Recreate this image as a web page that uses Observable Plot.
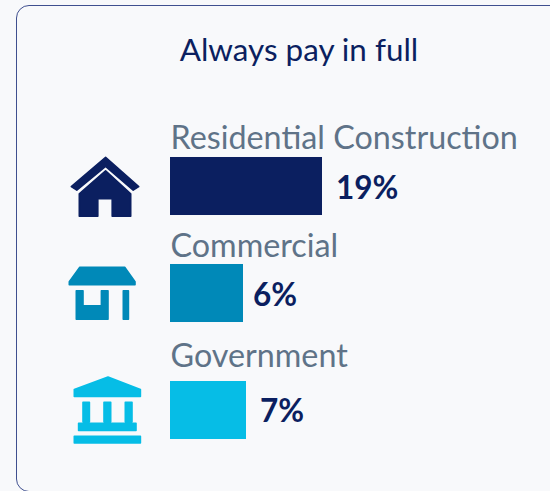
<!DOCTYPE html>
<html>
<head>
<meta charset="utf-8">
<script src="https://cdn.jsdelivr.net/npm/d3@7"></script>
<script src="https://cdn.jsdelivr.net/npm/@observablehq/plot@0.6"></script>
<style>
html,body{margin:0;padding:0;width:550px;height:491px;overflow:hidden;background:#f8f9fb;font-family:Lato,sans-serif}
#card{position:absolute;left:16px;top:5px;width:600px;height:487px;box-sizing:border-box;border:1px solid #3f4f8f;border-radius:13px}
#title{position:absolute;left:0;top:29px;width:598px;text-align:center;font:31.4px/40px Lato,sans-serif;color:#0b1f60}
#chart{position:absolute;left:0;top:0}
svg{background:transparent!important;display:block}
</style>
</head>
<body>
<div id="card"></div>
<div id="title">Always pay in full</div>
<div id="chart"></div>
<script>
const categories = ["Residential Construction", "Commercial", "Government"];
const values = [19, 6, 7];
const colors = ["#0b1f60", "#0089b8", "#06bde6"];
const rowShift = [0, -5, 0];
const labelOffset = [-48, -47, -54];
const valueGap = [13.5, 9.5, 13.5];
const valueOffset = [2, 2, 1];
// The reference's bars are not proportional to their labels: this maps label to drawn length
const lengthStops = [[0, 6, 7, 19], [0, 9.125, 9.5, 19]];

// Icon outlines, relative to the icon centre
const iconPaths = [
  [
    [[-.7,-30],[34,1],[28.5,4.5],[-.7,-21],[-29.5,4.5],[-35,1]],
    [[-.7,-16.5],[26,6.5],[26,30.5],[7.5,30.5],[7.5,11.5],[-8.5,11.5],[-8.5,30.5],[-27,30.5],[-27,6.5]]
  ],
  [
    [[-26.5,-27],[20,-27],[30.3,-11],[30.3,-8],[-37,-8],[-37,-11]],
    [[-30,-3.5],[-23.3,-3.5],[-23.3,13],[-3.3,13],[-3.3,-3.5],[3.3,-3.5],[3.3,26.5],[-30,26.5]],
    [[17,-3.5],[23.7,-3.5],[23.7,26.5],[17,26.5]]
  ],
  [
    [[1.7,-34.3],[35.7,-21.7],[35.7,-13.3],[-32,-13.3],[-32,-21.7]],
    [[-23.3,-9],[-15.3,-9],[-15.3,12],[-23.3,12]],
    [[-2.3,-9],[6,-9],[6,12],[-2.3,12]],
    [[19,-9],[27.3,-9],[27.3,12],[19,12]],
    [[-27.7,12],[31.3,12],[31.3,20.7],[-27.7,20.7]],
    [[-32,25],[35.7,25],[35.7,33.3],[-32,33.3]]
  ]
];

const symbolOf = (shapes, inset) => ({
  draw(ctx) {
    for (const pts of shapes) {
      const cx = d3.mean(pts, p => p[0]), cy = d3.mean(pts, p => p[1]);
      pts.forEach(([a, b], i) => {
        const x = a + Math.sign(cx - a) * inset, y = b + Math.sign(cy - b) * inset;
        i ? ctx.lineTo(x, y) : ctx.moveTo(x, y);
      });
      ctx.closePath();
    }
  }
});

const rows = categories.map((category, i) => ({category, value: values[i], color: colors[i], i}));
const drawnLength = d3.scaleLinear(lengthStops[0], lengthStops[1]);

const marks = rows.flatMap(r => [
  Plot.barX([r], {x1: 0, x2: "value", y: "category", fill: "color", dy: rowShift[r.i]}),
  Plot.text([r], {
    x: 0, y: "category", text: "category", textAnchor: "start", dx: 0, dy: rowShift[r.i] + labelOffset[r.i],
    fill: "#5f7388", fontSize: 32.3
  }),
  Plot.text([r], {
    x: "value", y: "category", text: d => d.value + "%", textAnchor: "start",
    dx: valueGap[r.i], dy: rowShift[r.i] + valueOffset[r.i],
    fill: "#0b1f60", fontSize: 31.5, fontWeight: 700
  }),
  Plot.dot([r], {
    x: 0, y: "category", dx: -65, dy: rowShift[r.i],
    symbol: symbolOf(iconPaths[r.i], 0.8),
    fill: "color", stroke: "color", strokeWidth: 1.6, strokeLinejoin: "round"
  })
]);

const chart = Plot.plot({
  width: 550,
  height: 491,
  margin: 0,
  style: {background: "transparent", fontFamily: "Lato, sans-serif"},
  x: {axis: null, domain: [0, 19], range: [170, 322], transform: drawnLength},
  y: {axis: null, type: "band", domain: categories, range: [130, 466], paddingInner: 0.482, paddingOuter: 0.241, round: false},
  marks
});
document.getElementById("chart").appendChild(chart);
</script>
</body>
</html>
